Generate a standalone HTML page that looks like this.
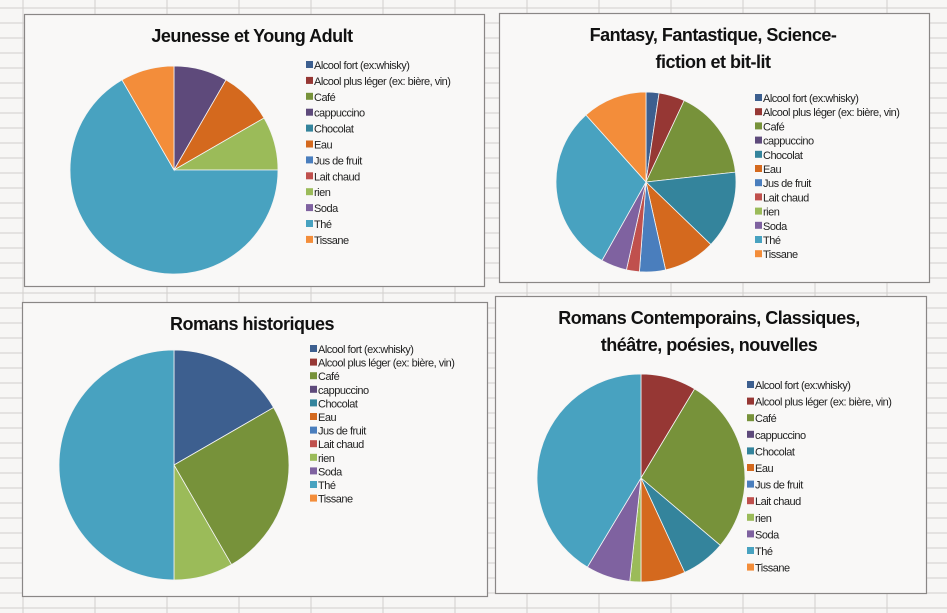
<!DOCTYPE html>
<html><head><meta charset="utf-8"><style>
html,body{margin:0;padding:0;background:#f7f6f5;}
svg{display:block;font-family:"Liberation Sans",Arial,sans-serif;}
</style></head><body>
<svg id="s" width="947" height="613" viewBox="0 0 947 613">
<g id="grid"></g>
<g id="charts"></g>
</svg>
<script>
const categories = ["Alcool fort (ex:whisky)","Alcool plus léger (ex: bière, vin)","Café","cappuccino","Chocolat","Eau","Jus de fruit","Lait chaud","rien","Soda","Thé","Tissane"];
const colors = ["#3d5f8f","#963734","#77923a","#5e4a7b","#34849c","#d4691e","#4a7ebd","#c0504d","#9bbb59","#7f62a0","#48a2c0","#f38d3a"];
const jeunesseValues = [0,0,0,1,0,1,0,0,1,0,8,1];
const fantasyValues = [1,2,7,0,6,4,2,1,0,2,13,5];
const historiquesValues = [2,0,3,0,0,0,0,0,1,0,6,0];
const contemporainsValues = [0,5,16,0,4,4,0,0,1,4,24,0];
const titles1 = ["Jeunesse et Young Adult"];
const titles2 = ["Fantasy, Fantastique, Science-","fiction et bit-lit"];
const titles3 = ["Romans historiques"];
const titles4 = ["Romans Contemporains, Classiques,","théâtre, poésies, nouvelles"];

const NS="http://www.w3.org/2000/svg";
function mk(tag,attrs,parent){const e=document.createElementNS(NS,tag);for(const k in attrs)e.setAttribute(k,attrs[k]);parent.appendChild(e);return e;}
const grid=document.getElementById('grid');
for(let y=8;y<613;y+=15){const l=mk('line',{x1:0,x2:947,y1:y,y2:y,stroke:'#d2cfcd','stroke-width':1},grid);

}
for(let x=23;x<947;x+=72){const l=mk('line',{x1:x,x2:x,y1:0,y2:613,stroke:'#d2cfcd','stroke-width':1},grid);

}

function angleToXY(cx,cy,r,a){return [cx+r*Math.sin(a),cy-r*Math.cos(a)];}

function drawChart(cfg){
  const root=document.getElementById('charts');
  const g=mk('g',{},root);
  
  
  const box=mk('rect',{x:cfg.box[0]+0.5,y:cfg.box[1]+0.5,width:cfg.box[2]-cfg.box[0],height:cfg.box[3]-cfg.box[1],fill:'#f9f8f7',stroke:'#8a8786','stroke-width':1.2},g);
  
  
  cfg.titles.forEach((t,i)=>{
    const tx=mk('text',{x:cfg.titleX,y:cfg.titleY+i*27,'text-anchor':'middle','font-size':18,'font-weight':'bold',fill:'#111','letter-spacing':'-0.5'},g);
    tx.textContent=t;
    
    
  });
  const vals=cfg.values;const total=vals.reduce((a,b)=>a+b,0);
  let a0=0;
  const pg=mk('g',{},g);
  
  
  vals.forEach((v,i)=>{
    if(v<=0)return;
    const a1=a0+v/total*2*Math.PI;
    const [x0,y0]=angleToXY(cfg.cx,cfg.cy,cfg.r,a0);
    const [x1,y1]=angleToXY(cfg.cx,cfg.cy,cfg.r,a1);
    const large=(a1-a0)>Math.PI?1:0;
    const p=mk('path',{d:`M${cfg.cx},${cfg.cy} L${x0},${y0} A${cfg.r},${cfg.r} 0 ${large} 1 ${x1},${y1} Z`,fill:colors[i],stroke:'#f4f4f4','stroke-width':0.8},pg);
    
    
    a0=a1;
  });
  categories.forEach((c,i)=>{
    const y=cfg.legY+i*cfg.legStep;
    const eg=mk('g',{},g);
    
    
    mk('rect',{x:cfg.legX,y:y-4,width:7,height:7,fill:colors[i]},eg);
    const t=mk('text',{x:cfg.legX+8,y:y+4,'font-size':11,fill:'#222','letter-spacing':'-0.5'},eg);
    t.textContent=c;
  });
}
drawChart({name:'chart-jeunesse',box:[24,14,484,286],titles:titles1,titleX:252,titleY:42,values:jeunesseValues,cx:174,cy:170,r:104,legX:306,legY:65,legStep:15.9});
drawChart({name:'chart-fantasy',box:[499,13,929,282],titles:titles2,titleX:713,titleY:41,values:fantasyValues,cx:646,cy:182,r:90,legX:755,legY:98,legStep:14.2});
drawChart({name:'chart-historiques',box:[22,302,487,596],titles:titles3,titleX:252,titleY:330,values:historiquesValues,cx:174,cy:465,r:115,legX:310,legY:349,legStep:13.6});
drawChart({name:'chart-contemporains',box:[495,296,926,593],titles:titles4,titleX:709,titleY:324,values:contemporainsValues,cx:641,cy:478,r:104,legX:747,legY:385,legStep:16.6});
</script>
</body></html>
